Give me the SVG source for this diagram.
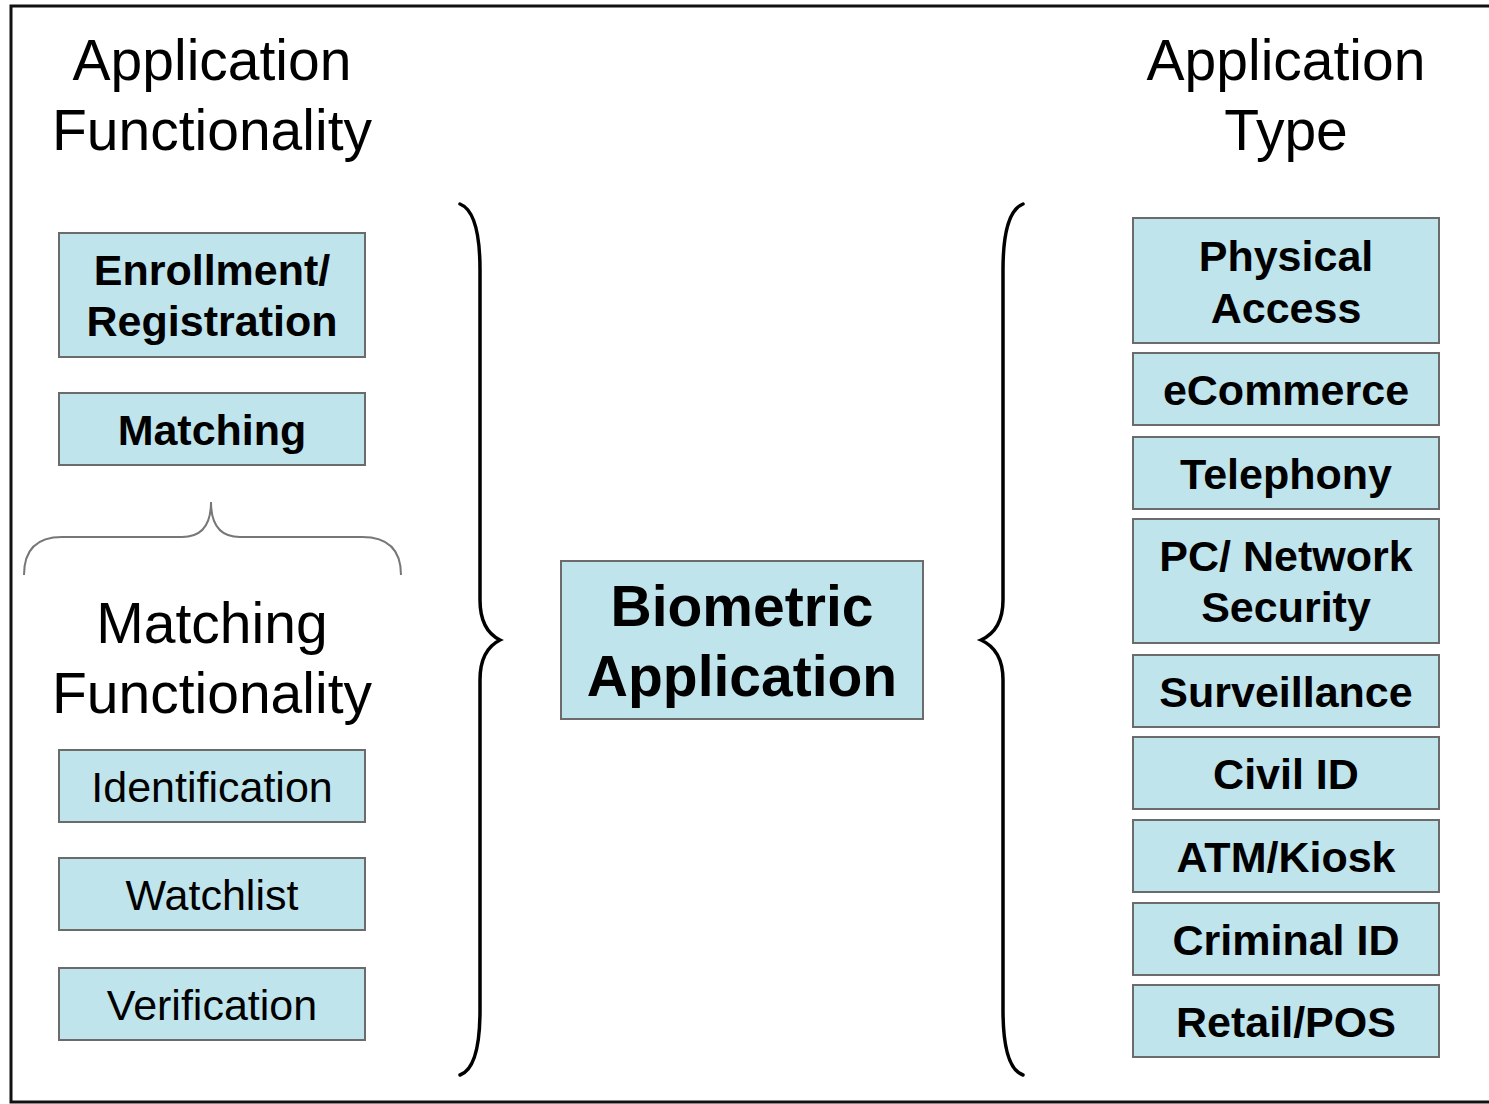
<svg xmlns="http://www.w3.org/2000/svg" width="1489" height="1104" viewBox="0 0 1489 1104">
<style>
.box{fill:#bfe4ec;stroke:#6b6b6b;stroke-width:2}
.t{font-family:"Liberation Sans",Arial,sans-serif;text-anchor:middle;fill:#000}
.b{font-weight:bold;font-size:43px}
.r{font-size:43px}
.h{font-size:57px}
.hb{font-size:57px;font-weight:bold}
.brace{fill:none;stroke:#000;stroke-width:3.5;stroke-linecap:round}
</style>
<rect x="0" y="0" width="1489" height="1104" fill="#fff"/>
<rect x="11" y="6" width="1490" height="1096" fill="none" stroke="#111" stroke-width="3"/>
<g id="titles">
<text class="t h" x="212" y="80">Application</text>
<text class="t h" x="212" y="150">Functionality</text>
<text class="t h" x="1286" y="80">Application</text>
<text class="t h" x="1286" y="150">Type</text>
<text class="t h" x="212" y="643">Matching</text>
<text class="t h" x="212" y="713">Functionality</text>
</g>
<g id="connectors">
<path class="brace" d="M460,204 Q480,212 480,270 L480,600 Q480,630 500,640 Q480,650 480,680 L480,1010 Q480,1068 460,1075"/>
<path class="brace" d="M1023,204 Q1003,212 1003,270 L1003,600 Q1003,630 981,640 Q1003,650 1003,680 L1003,1010 Q1003,1068 1023,1075"/>
<path d="M24,575 Q24,537 62,537 L182,537 Q211,537 211,502 Q211,537 240,537 L362,537 Q401,537 401,575" fill="none" stroke="#777" stroke-width="2"/>
</g>
<g id="enrollment"><rect class="box" x="59" y="233" width="306" height="124"/><text class="t b" x="212" y="285">Enrollment/</text><text class="t b" x="212" y="336">Registration</text></g>
<g id="matching"><rect class="box" x="59" y="393" width="306" height="72"/><text class="t b" x="212" y="445">Matching</text></g>
<g id="identification"><rect class="box" x="59" y="750" width="306" height="72"/><text class="t r" x="212" y="802">Identification</text></g>
<g id="watchlist"><rect class="box" x="59" y="858" width="306" height="72"/><text class="t r" x="212" y="910">Watchlist</text></g>
<g id="verification"><rect class="box" x="59" y="968" width="306" height="72"/><text class="t r" x="212" y="1020">Verification</text></g>
<g id="biometric"><rect class="box" x="561" y="561" width="362" height="158"/><text class="t hb" x="742" y="626">Biometric</text><text class="t hb" x="742" y="696">Application</text></g>
<g id="physical"><rect class="box" x="1133" y="218" width="306" height="125"/><text class="t b" x="1286" y="271">Physical</text><text class="t b" x="1286" y="323">Access</text></g>
<g id="ecommerce"><rect class="box" x="1133" y="353" width="306" height="72"/><text class="t b" x="1286" y="405">eCommerce</text></g>
<g id="telephony"><rect class="box" x="1133" y="437" width="306" height="72"/><text class="t b" x="1286" y="489">Telephony</text></g>
<g id="pcnetwork"><rect class="box" x="1133" y="519" width="306" height="124"/><text class="t b" x="1286" y="571">PC/ Network</text><text class="t b" x="1286" y="622">Security</text></g>
<g id="surveillance"><rect class="box" x="1133" y="655" width="306" height="72"/><text class="t b" x="1286" y="707">Surveillance</text></g>
<g id="civilid"><rect class="box" x="1133" y="737" width="306" height="72"/><text class="t b" x="1286" y="789">Civil ID</text></g>
<g id="atm"><rect class="box" x="1133" y="820" width="306" height="72"/><text class="t b" x="1286" y="872">ATM/Kiosk</text></g>
<g id="criminal"><rect class="box" x="1133" y="903" width="306" height="72"/><text class="t b" x="1286" y="955">Criminal ID</text></g>
<g id="retail"><rect class="box" x="1133" y="985" width="306" height="72"/><text class="t b" x="1286" y="1037">Retail/POS</text></g>
</svg>
